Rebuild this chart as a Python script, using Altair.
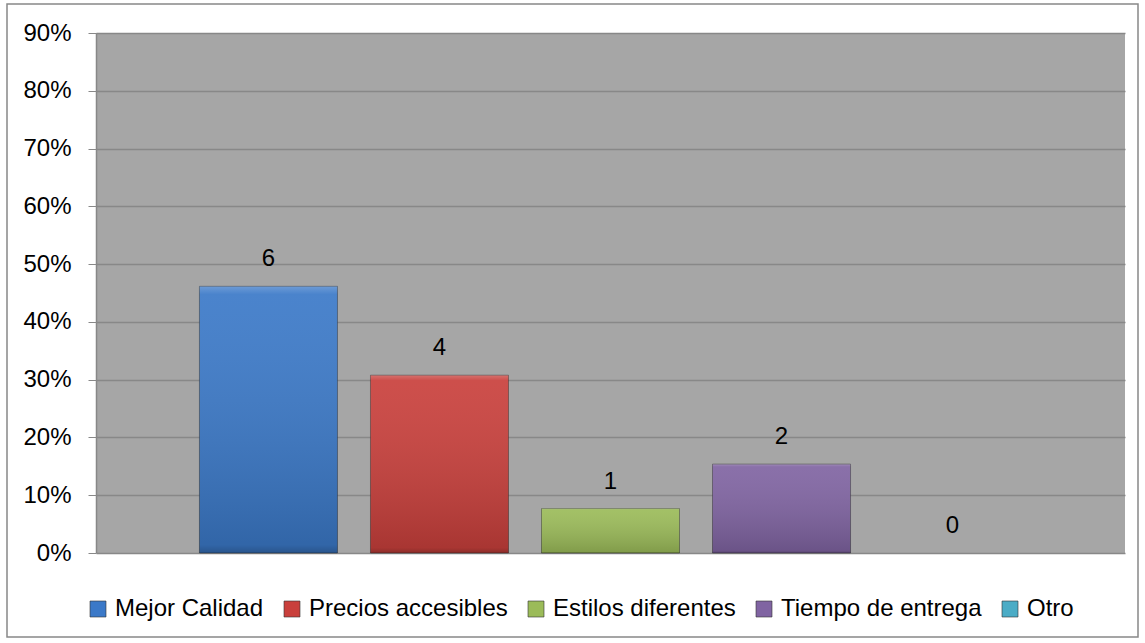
import altair as alt
import pandas as pd

categories = ["Mejor Calidad", "Precios accesibles", "Estilos diferentes", "Tiempo de entrega", "Otro"]
counts = [6, 4, 1, 2, 0]
percents = [0.4615, 0.3077, 0.0769, 0.1538, 0.0]
colors = ["#3b79c8", "#c9403c", "#9bbb59", "#8064a2", "#4bacc6"]
y_ticks = [0, 0.1, 0.2, 0.3, 0.4, 0.5, 0.6, 0.7, 0.8, 0.9]

df = pd.DataFrame({"cat": categories, "n": counts, "pct": percents})

FONT = "Liberation Sans"
FS = 24

x_enc = alt.X("cat:N", sort=categories, axis=None,
              scale=alt.Scale(paddingInner=0.193, paddingOuter=0.605))
y_scale = alt.Scale(domain=[0, 0.9], nice=False)

base = alt.Chart(df)

bars = base.mark_bar(stroke="#222222", strokeWidth=0.8).encode(
    x=x_enc,
    y=alt.Y("pct:Q", scale=y_scale,
            axis=alt.Axis(values=y_ticks, format=".0%", title=None,
                          labelFontSize=FS, labelFont=FONT, labelColor="#000000",
                          tickSize=8, tickColor="#888888", labelPadding=17,
                          domainColor="#888888", domainWidth=1.5,
                          grid=True, gridColor="#888888", gridWidth=1.5)),
    strokeOpacity=alt.condition("datum.pct > 0", alt.value(0.55), alt.value(0)),
    color=alt.Color("cat:N", sort=categories,
                    scale=alt.Scale(domain=categories, range=colors),
                    legend=alt.Legend(title=None, orient="none", legendX=-10, legendY=564,
                                      direction="horizontal", columns=5,
                                      symbolType="square", symbolSize=256,
                                      symbolStrokeWidth=0.6, symbolStrokeColor="#333333",
                                      labelFontSize=FS, labelFont=FONT, labelColor="#000000",
                                      labelOffset=5, columnPadding=16, labelLimit=400)),
)

shade = base.transform_filter("datum.pct > 0").mark_bar(
    fill=alt.Gradient(gradient="linear", x1=0, x2=0, y1=0, y2=1,
                      stops=[alt.GradientStop(offset=0, color="rgba(255,255,255,0.25)"),
                             alt.GradientStop(offset=0.03, color="rgba(255,255,255,0.08)"),
                             alt.GradientStop(offset=0.97, color="rgba(0,0,0,0.16)"),
                             alt.GradientStop(offset=1, color="rgba(0,0,0,0.3)")])
).encode(x=x_enc, y=alt.Y("pct:Q", scale=y_scale))

labels = base.mark_text(fontSize=FS, font=FONT, color="#000000", dy=-27, baseline="middle").encode(
    x=x_enc, y=alt.Y("pct:Q", scale=y_scale), text="n:Q")

border = alt.Chart(pd.DataFrame({"a": [0]})).mark_rect(
    fillOpacity=0, stroke="#888888", strokeWidth=1.5
).encode(x=alt.value(-89), x2=alt.value(1042), y=alt.value(-29), y2=alt.value(604))

chart = alt.layer(bars, shade, labels, border).properties(
    width=1029, height=520,
    autosize=alt.AutoSizeParams(type="none"),
    padding={"left": 96, "top": 33, "right": 20, "bottom": 90},
    background="#ffffff",
).configure_view(fill="#a6a6a6", stroke=None)

chart.save("out.html", embed_options={"renderer": "svg", "actions": False})
